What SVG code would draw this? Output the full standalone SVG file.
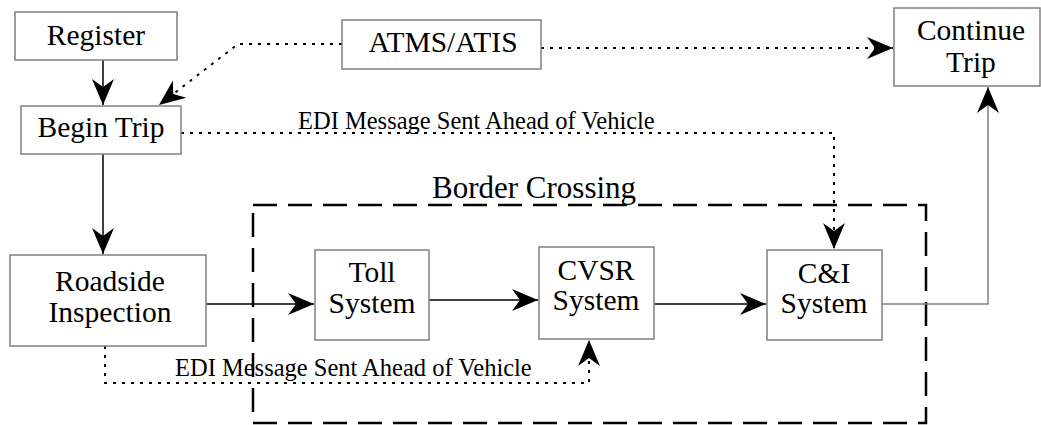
<svg xmlns="http://www.w3.org/2000/svg" width="1041" height="425" viewBox="0 0 1041 425">
  <style>
    .box { fill: #ffffff; stroke: #808080; stroke-width: 1.5; }
    text { font-family: 'Liberation Serif', 'Times New Roman', serif; fill: #000; }
    .lbl { font-size: 29.5px; text-anchor: middle; }
    .note { font-size: 24.5px; }
    .title { font-size: 31px; }
    .solid { fill: none; stroke: #000; stroke-width: 1.5; }
    .gray { fill: none; stroke: #808080; stroke-width: 1.5; }
    .dot { fill: none; stroke: #000; stroke-width: 2; stroke-dasharray: 3 6; }
    .zone { fill: none; stroke: #000; stroke-width: 2.5; stroke-dasharray: 24 11; }
  </style>
  <defs>
    <!-- notched filled arrowhead, tip at the path end -->
    <marker id="head" markerUnits="userSpaceOnUse" markerWidth="30" markerHeight="28" viewBox="-28 -14 30 28" refX="0" refY="0" orient="auto">
      <path d="M0,0 L-26,-11 L-18,0 L-26,11 Z" fill="#000"/>
    </marker>
  </defs>

  <rect width="1041" height="425" fill="#ffffff"/>

  <!-- border crossing zone -->
  <g id="border-crossing">
    <rect class="zone" x="253" y="205" width="673" height="218"/>
    <text class="title" x="432" y="198">Border Crossing</text>
  </g>

  <!-- connectors -->
  <g id="connectors">
    <line class="solid" x1="103" y1="60" x2="103" y2="105" marker-end="url(#head)"/>
    <line class="solid" x1="103" y1="154" x2="103" y2="254" marker-end="url(#head)"/>
    <line class="solid" x1="206" y1="304" x2="314" y2="304" marker-end="url(#head)"/>
    <line class="solid" x1="429" y1="300" x2="538" y2="300" marker-end="url(#head)"/>
    <line class="solid" x1="654" y1="304" x2="766" y2="304" marker-end="url(#head)"/>
    <polyline class="gray" points="882,304 988,304 988,87" marker-end="url(#head)"/>
    <polyline class="dot" points="342,44 238,44 159,105" marker-end="url(#head)"/>
    <line class="dot" x1="541" y1="48" x2="893" y2="48" marker-end="url(#head)"/>
    <polyline class="dot" points="181,133 834,133 834,249" marker-end="url(#head)"/>
    <polyline class="dot" points="105,346 105,383 589,383 589,340" marker-end="url(#head)"/>
    <text class="note" x="298" y="129">EDI Message Sent Ahead of Vehicle</text>
    <text class="note" x="175" y="376">EDI Message Sent Ahead of Vehicle</text>
  </g>

  <!-- nodes -->
  <g id="register">
    <rect class="box" x="15" y="12" width="162" height="48"/>
    <text class="lbl" x="96" y="45">Register</text>
  </g>
  <g id="begin-trip">
    <rect class="box" x="21" y="106" width="160" height="48"/>
    <text class="lbl" x="101" y="137">Begin Trip</text>
  </g>
  <g id="atms-atis">
    <rect class="box" x="342" y="20" width="199" height="49"/>
    <text class="lbl" x="443" y="52">ATMS/ATIS</text>
  </g>
  <g id="continue-trip">
    <rect class="box" x="894" y="8" width="146" height="78"/>
    <text class="lbl" x="971" y="40">Continue</text>
    <text class="lbl" x="971" y="72">Trip</text>
  </g>
  <g id="roadside-inspection">
    <rect class="box" x="10" y="255" width="196" height="91"/>
    <text class="lbl" x="110" y="291">Roadside</text>
    <text class="lbl" x="110" y="322">Inspection</text>
  </g>
  <g id="toll-system">
    <rect class="box" x="315" y="250" width="114" height="90"/>
    <text class="lbl" x="372" y="282">Toll</text>
    <text class="lbl" x="372" y="313">System</text>
  </g>
  <g id="cvsr-system">
    <rect class="box" x="539" y="247" width="115" height="92"/>
    <text class="lbl" x="596" y="280">CVSR</text>
    <text class="lbl" x="596" y="310">System</text>
  </g>
  <g id="ci-system">
    <rect class="box" x="767" y="250" width="115" height="90"/>
    <text class="lbl" x="824" y="283">C&amp;I</text>
    <text class="lbl" x="824" y="313">System</text>
  </g>
</svg>
